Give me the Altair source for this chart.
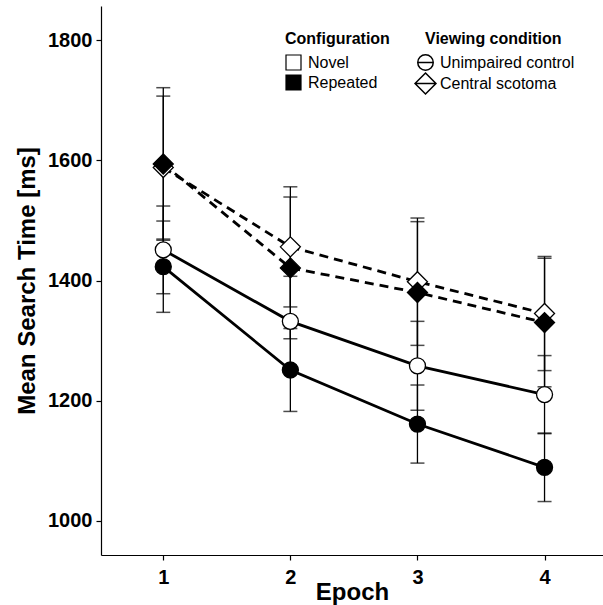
import altair as alt
import pandas as pd

epochs = [1, 2, 3, 4]
configurations = ["Novel", "Repeated"]
conditions = ["Unimpaired control", "Central scotoma"]

uc_novel_mean = [1451, 1332, 1258, 1210]
uc_novel_err = [73, 75, 74, 65]
uc_rep_mean = [1423, 1251, 1161, 1089]
uc_rep_err = [76, 69, 65, 57]
cs_novel_mean = [1588, 1456, 1398, 1345]
cs_novel_err = [119, 100, 106, 95]
cs_rep_mean = [1594, 1421, 1380, 1330]
cs_rep_err = [127, 118, 118, 107]

y_ticks = [1000, 1200, 1400, 1600, 1800]

series = [
    ("Unimpaired control", "Novel", uc_novel_mean, uc_novel_err),
    ("Central scotoma", "Novel", cs_novel_mean, cs_novel_err),
    ("Unimpaired control", "Repeated", uc_rep_mean, uc_rep_err),
    ("Central scotoma", "Repeated", cs_rep_mean, cs_rep_err),
]
rows = []
for cond, conf, means, errs in series:
    for e, m, s in zip(epochs, means, errs):
        rows.append({"Epoch": e, "Configuration": conf, "Condition": cond,
                     "Mean": m, "lo": m - s, "hi": m + s,
                     "Series": cond + " | " + conf})
df = pd.DataFrame(rows)

FONT = "Liberation Sans"
xscale = alt.Scale(domain=[0.51, 4.46], nice=False, zero=False)
yscale = alt.Scale(domain=[943, 1857], nice=False, zero=False)


def X():
    return alt.X("Epoch:Q", scale=xscale, title="Epoch",
                 axis=alt.Axis(values=epochs, format="d"))


def Y(field):
    return alt.Y(field, scale=yscale, title="Mean Search Time [ms]",
                 axis=alt.Axis(values=y_ticks, format="d"))


base = alt.Chart(df)

rules = base.mark_rule(color="black", strokeWidth=1.3).encode(
    x=X(), y=Y("lo:Q"), y2="hi:Q")
cap_lo = base.mark_tick(orient="horizontal", color="black", size=14, thickness=1.5).encode(
    x=X(), y=Y("lo:Q"))
cap_hi = base.mark_tick(orient="horizontal", color="black", size=14, thickness=1.5).encode(
    x=X(), y=Y("hi:Q"))

solid_lines = base.mark_line(color="black", strokeWidth=2.8).encode(
    x=X(), y=Y("Mean:Q"), detail="Configuration:N"
).transform_filter(alt.datum.Condition == "Unimpaired control")

dashed_lines = base.mark_line(color="black", strokeWidth=2.8, strokeDash=[9, 6]).encode(
    x=X(), y=Y("Mean:Q"), detail="Configuration:N"
).transform_filter(alt.datum.Condition == "Central scotoma")

point_fill = alt.condition(alt.datum.Configuration == "Repeated",
                           alt.value("black"), alt.value("white"))

circles = base.mark_point(filled=True, shape="circle", size=256, stroke="black",
                          strokeWidth=1.3, opacity=1).encode(
    x=X(), y=Y("Mean:Q"), fill=point_fill
).transform_filter(alt.datum.Condition == "Unimpaired control")

diamonds = base.mark_point(filled=True, shape="diamond", size=400, stroke="black",
                           strokeWidth=1.3, opacity=1).encode(
    x=X(), y=Y("Mean:Q"), fill=point_fill
).transform_filter(alt.datum.Condition == "Central scotoma")

# legend carriers (no data rows: only their legends are drawn)
fill_legend_layer = base.mark_square(size=225, stroke="black", strokeWidth=1.2,
                                     opacity=1).encode(
    x=X(), y=Y("Mean:Q"),
    fill=alt.Fill("Configuration:N",
                  scale=alt.Scale(domain=configurations, range=["white", "black"]),
                  legend=alt.Legend(title="Configuration", orient="none",
                                    legendX=184, legendY=25, symbolType="square",
                                    symbolSize=225, symbolStrokeColor="black",
                                    symbolStrokeWidth=1.2, symbolOpacity=1,
                                    rowPadding=-1, titlePadding=7, labelOffset=6))
).transform_filter("false")

circle_path = "M-1,0A1,1,0,1,1,1,0A1,1,0,1,1,-1,0ZM-1,0L1,0"
diamond_path = "M0,-1.35L1.35,0L0,1.35L-1.35,0ZM-1.35,0L1.35,0"

shape_legend_layer = base.mark_point(filled=False, color="black", strokeWidth=1.5,
                                     opacity=1).encode(
    x=X(), y=Y("Mean:Q"),
    shape=alt.Shape("Condition:N",
                    scale=alt.Scale(domain=conditions, range=[circle_path, diamond_path]),
                    legend=alt.Legend(title="Viewing condition", orient="none",
                                      legendX=324, legendY=25, symbolSize=240,
                                      symbolFillColor="white", symbolStrokeColor="black",
                                      symbolStrokeWidth=1.5, symbolOpacity=1,
                                      rowPadding=-4, titlePadding=7, labelOffset=6,
                                      symbolOffset=-8))
).transform_filter("false")

chart = alt.layer(rules, cap_lo, cap_hi, solid_lines, dashed_lines, circles, diamonds,
                  fill_legend_layer, shape_legend_layer).properties(
    width=502, height=549,
    autosize=alt.AutoSizeParams(type="none"),
    padding={"left": 101, "top": 6, "right": 0, "bottom": 50},
    background="white",
).configure_view(stroke=None).configure_axis(
    grid=False, domainColor="black", domainWidth=1.2, tickColor="black", tickSize=5,
    tickWidth=1.2, labelColor="black", labelFont=FONT, labelFontSize=20,
    labelFontWeight="bold", titleFont=FONT, titleFontSize=24, titleFontWeight="bold",
    titleColor="black"
).configure_axisX(labelPadding=7, titleY=44, titleBaseline="alphabetic"
).configure_axisY(labelPadding=4, titlePadding=8
).configure_legend(titleFont=FONT, titleFontSize=16, titleFontWeight="bold",
                   titleColor="black", labelFont=FONT, labelFontSize=16,
                   labelColor="black")

chart.save("out.html", embed_options={"renderer": "svg", "actions": False})
